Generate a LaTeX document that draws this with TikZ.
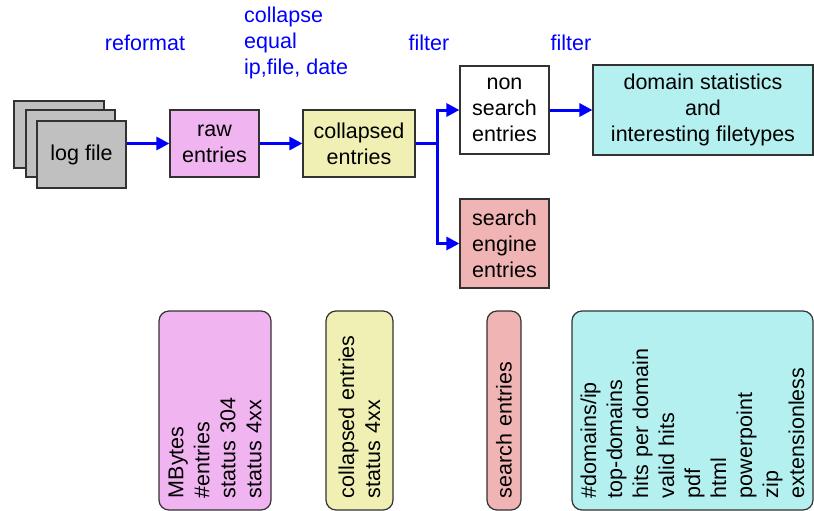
\documentclass[tikz,border=0pt]{standalone}
\usepackage{fontspec}
\setmainfont{Liberation Sans}
\usetikzlibrary{arrows.meta}

\definecolor{logfill}{RGB}{192,192,192}
\definecolor{rawfill}{RGB}{240,180,240}
\definecolor{collfill}{RGB}{240,240,180}
\definecolor{searchfill}{RGB}{240,180,180}
\definecolor{domainfill}{RGB}{180,240,240}
\definecolor{edge}{RGB}{50,50,50}

\begin{document}
\begin{tikzpicture}[x=1pt,y=-1pt,
    every node/.style={font=\fontsize{21.5}{26}\selectfont},
    stagebox/.style={draw=edge,line width=1.2pt,align=center,inner sep=0pt},
    statbox/.style={draw=edge,line width=1.2pt,rounded corners=10pt,rotate=90,
                    minimum width=199pt,inner xsep=12pt,align=left,text width=175pt},
    flow/.style={draw=blue,line width=3pt,-{Triangle[length=13pt,width=13pt]}},
    step label/.style={text=blue,inner sep=0pt}]

    \useasboundingbox (0,0) rectangle (814,511);

    % log files
    \node (logback) at (59,134.5)  [stagebox,fill=logfill,minimum width=90pt,minimum height=67pt] {};
    \node (logmid)  at (70.5,143.5) [stagebox,fill=logfill,minimum width=89pt,minimum height=67pt] {};
    \node (logfile) at (81.5,154.5) [stagebox,fill=logfill,minimum width=89pt,minimum height=67pt] {log file};

    % stages
    \node (raw)       at (214.5,143.5) [stagebox,fill=rawfill,minimum width=89pt,minimum height=67pt] {raw\\entries};
    \node (collapsed) at (359,143.5)   [stagebox,fill=collfill,minimum width=112pt,minimum height=67pt] {collapsed\\entries};
    \node (nonsearch) at (504.5,110)   [stagebox,fill=white,minimum width=89pt,minimum height=88pt] {non\\search\\entries};
    \node (searchengine) at (504.5,243.5) [stagebox,fill=searchfill,minimum width=89pt,minimum height=89pt] {search\\engine\\entries};
    \node (domain)    at (703,110)     [stagebox,fill=domainfill,minimum width=220pt,minimum height=90pt] {domain statistics\\and\\interesting filetypes};

    % labels
    \node (reformat) at (145,43) [step label] {reformat};
    \node (collapse) at (244,43) [step label,anchor=west,align=left] {collapse\\equal\\ip,file, date};
    \node (filterA)  at (429,43) [step label] {filter};
    \node (filterB)  at (571,43) [step label] {filter};

    % connectors
    \coordinate (split) at (437,143.5);
    \draw[flow] (logfile.east |- raw.west) -- (raw.west);
    \draw[flow] (raw.east) -- (collapsed.west);
    \draw[draw=blue,line width=3pt] (collapsed.east) -- (split);
    \draw[flow] (split) |- (nonsearch.west);
    \draw[flow] (split) |- (searchengine.west);
    \draw[flow] (nonsearch.east) -- (domain.west);

    % statistics
    \node (rawstats)    at (215,410.5)   [statbox,fill=rawfill,minimum height=112pt] {MBytes\\\#entries\\status 304\\status 4xx};
    \node (collstats)   at (359.5,410.5) [statbox,fill=collfill,minimum height=67pt] {collapsed entries\\status 4xx};
    \node (searchstats) at (504,410.5)   [statbox,fill=searchfill,minimum height=34pt] {search entries};
    \node (domainstats) at (692.5,410.5) [statbox,fill=domainfill,minimum height=241pt] {\#domains/ip\\top-domains\\hits per domain\\valid hits\\pdf\\html\\powerpoint\\zip\\extensionless};

\end{tikzpicture}
\end{document}
